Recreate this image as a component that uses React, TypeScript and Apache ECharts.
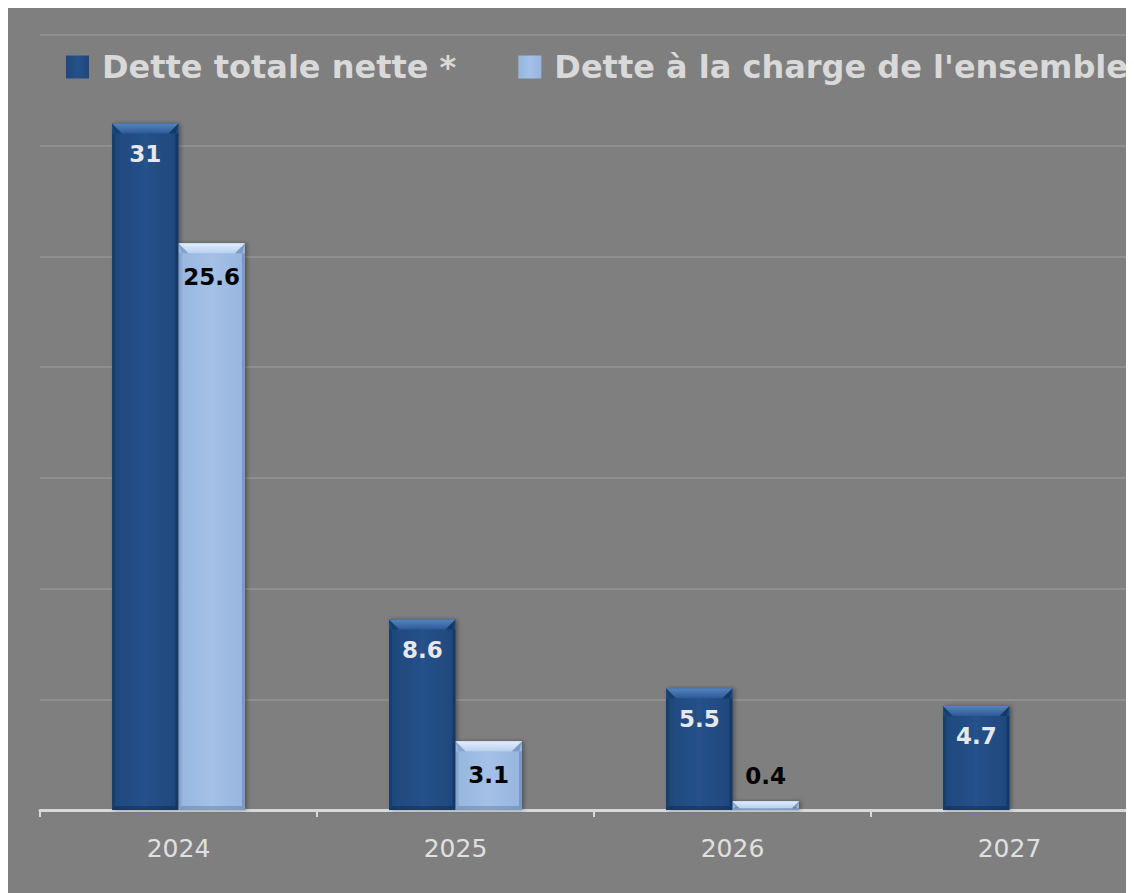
import React, { useEffect, useRef } from "react";
import * as echarts from "echarts";

const categories = ["2024", "2025", "2026", "2027"];
const detteTotaleNette = [31, 8.6, 5.5, 4.7];
const detteCharge: (number | null)[] = [25.6, 3.1, 0.4, null];
const seriesNames = ["Dette totale nette *", "Dette à la charge de l'ensemble"];
const yTicks = [0, 5, 10, 15, 20, 25, 30, 35];

const BAND_FRAC = 0.24;

export default function App() {
  const ref = useRef<HTMLDivElement>(null);
  useEffect(() => {
    if (!ref.current) return;
    const chart = echarts.init(ref.current, null, { renderer: "svg" });

    const darkFill = new echarts.graphic.LinearGradient(0, 0, 1, 0, [
      { offset: 0, color: "#1e487c" },
      { offset: 0.5, color: "#25518a" },
      { offset: 1, color: "#1e487c" },
    ]);
    const lightFill = new echarts.graphic.LinearGradient(0, 0, 1, 0, [
      { offset: 0, color: "#97b5de" },
      { offset: 0.5, color: "#a4c0e7" },
      { offset: 1, color: "#97b5de" },
    ]);

    const bevelData: any[] = [];
    detteTotaleNette.forEach((v, i) => bevelData.push([i, v, 0]));
    detteCharge.forEach((v, i) => {
      if (v != null) bevelData.push([i, v, 1]);
    });

    const renderBevel = (params: any, api: any) => {
      const cat = api.value(0);
      const val = api.value(1);
      const s = api.value(2);
      const top = api.coord([cat, val]);
      const base = api.coord([cat, 0]);
      const bw = api.size([1, 0])[0];
      const w = bw * BAND_FRAC;
      const x0 = s === 0 ? top[0] - w : top[0];
      const x1 = x0 + w;
      const y0 = top[1];
      const y1 = base[1];
      const h = y1 - y0;
      const b = Math.min(10, h * 0.8);
      const side = Math.min(3, b);
      const bb = Math.min(4, h / 3);
      const topFill =
        s === 0
          ? new echarts.graphic.LinearGradient(0, 0, 0, 1, [
              { offset: 0, color: "#5684c0" },
              { offset: 1, color: "#2c5a96" },
            ])
          : new echarts.graphic.LinearGradient(0, 0, 0, 1, [
              { offset: 0, color: "#e2eefc" },
              { offset: 1, color: "#b8d0ef" },
            ]);
      const sideL = s === 0 ? "rgba(10,30,60,0.25)" : "rgba(60,90,130,0.2)";
      const sideR = s === 0 ? "rgba(10,30,60,0.35)" : "rgba(60,90,130,0.3)";
      const bottom = s === 0 ? "rgba(10,30,60,0.35)" : "rgba(60,90,130,0.3)";
      return {
        type: "group",
        children: [
          {
            type: "polygon",
            shape: { points: [[x0, y0 + b], [x0 + side, y0 + b], [x0 + side, y1 - bb], [x0, y1]] },
            style: { fill: sideL },
          },
          {
            type: "polygon",
            shape: { points: [[x1, y0 + b], [x1 - side, y0 + b], [x1 - side, y1 - bb], [x1, y1]] },
            style: { fill: sideR },
          },
          {
            type: "polygon",
            shape: { points: [[x0, y1], [x0 + side, y1 - bb], [x1 - side, y1 - bb], [x1, y1]] },
            style: { fill: bottom },
          },
          {
            type: "polygon",
            shape: { points: [[x0, y0], [x1, y0], [x1 - b, y0 + b], [x0 + b, y0 + b]] },
            style: { fill: topFill },
          },
          {
            type: "polygon",
            shape: { points: [[x0, y0], [x0 + b, y0 + b], [x0 + side, y0 + b]] },
            style: { fill: sideL },
          },
          {
            type: "polygon",
            shape: { points: [[x1, y0], [x1 - b, y0 + b], [x1 - side, y0 + b]] },
            style: { fill: sideR },
          },
        ],
      };
    };

    const labelBase = {
      show: true,
      position: "insideTop" as const,
      distance: 19,
      fontFamily: "DejaVu Sans",
      fontWeight: "bold" as const,
      fontSize: 23,
    };

    chart.setOption({
      animation: false,
      backgroundColor: "#7f7f7f",
      legend: {
        top: 38,
        left: 53,
        icon: "rect",
        itemWidth: 23,
        itemHeight: 23,
        itemGap: 62,
        data: seriesNames,
        textStyle: {
          color: "#d9d9d9",
          fontFamily: "DejaVu Sans",
          fontWeight: "bold",
          fontSize: 32,
          padding: [0, 0, 0, 8],
        },
      },
      grid: { left: 32, right: 0, top: 27, bottom: 83 },
      xAxis: {
        type: "category",
        data: categories,
        axisLine: { lineStyle: { color: "#d9d9d9", width: 3 } },
        axisTick: { show: true, length: 7, lineStyle: { color: "#d9d9d9", width: 2 } },
        axisLabel: {
          color: "#e0e0e0",
          fontFamily: "DejaVu Sans",
          fontSize: 25,
          margin: 26,
        },
      },
      yAxis: {
        type: "value",
        min: yTicks[0],
        max: yTicks[yTicks.length - 1],
        interval: yTicks[1] - yTicks[0],
        axisLabel: { show: false },
        axisLine: { show: false },
        axisTick: { show: false },
        splitLine: { lineStyle: { color: "#8f8f8f", width: 2 } },
      },
      series: [
        {
          name: seriesNames[0],
          type: "bar",
          data: detteTotaleNette,
          barGap: "0%",
          barCategoryGap: "52%",
          itemStyle: {
            color: darkFill,
            shadowColor: "rgba(0,0,0,0.35)",
            shadowBlur: 4,
            shadowOffsetX: 2,
          },
          label: { ...labelBase, color: "#e8e8e8" },
        },
        {
          name: seriesNames[1],
          type: "bar",
          data: detteCharge.map((v) =>
            v != null && v < 1
              ? { value: v, label: { position: "top", distance: 14 } }
              : v
          ),
          barGap: "0%",
          barCategoryGap: "52%",
          itemStyle: {
            color: lightFill,
            shadowColor: "rgba(0,0,0,0.35)",
            shadowBlur: 4,
            shadowOffsetX: 2,
          },
          label: { ...labelBase, color: "#000000", distance: 22 },
        },
        {
          type: "custom",
          silent: true,
          z: 3,
          renderItem: renderBevel,
          data: bevelData,
          encode: { x: 0, y: 1 },
        },
      ],
    });
    return () => chart.dispose();
  }, []);
  return (
    <div style={{ width: 1126, height: 885, overflow: "hidden" }}>
      <div ref={ref} style={{ width: 1140, height: 885 }} />
    </div>
  );
}
